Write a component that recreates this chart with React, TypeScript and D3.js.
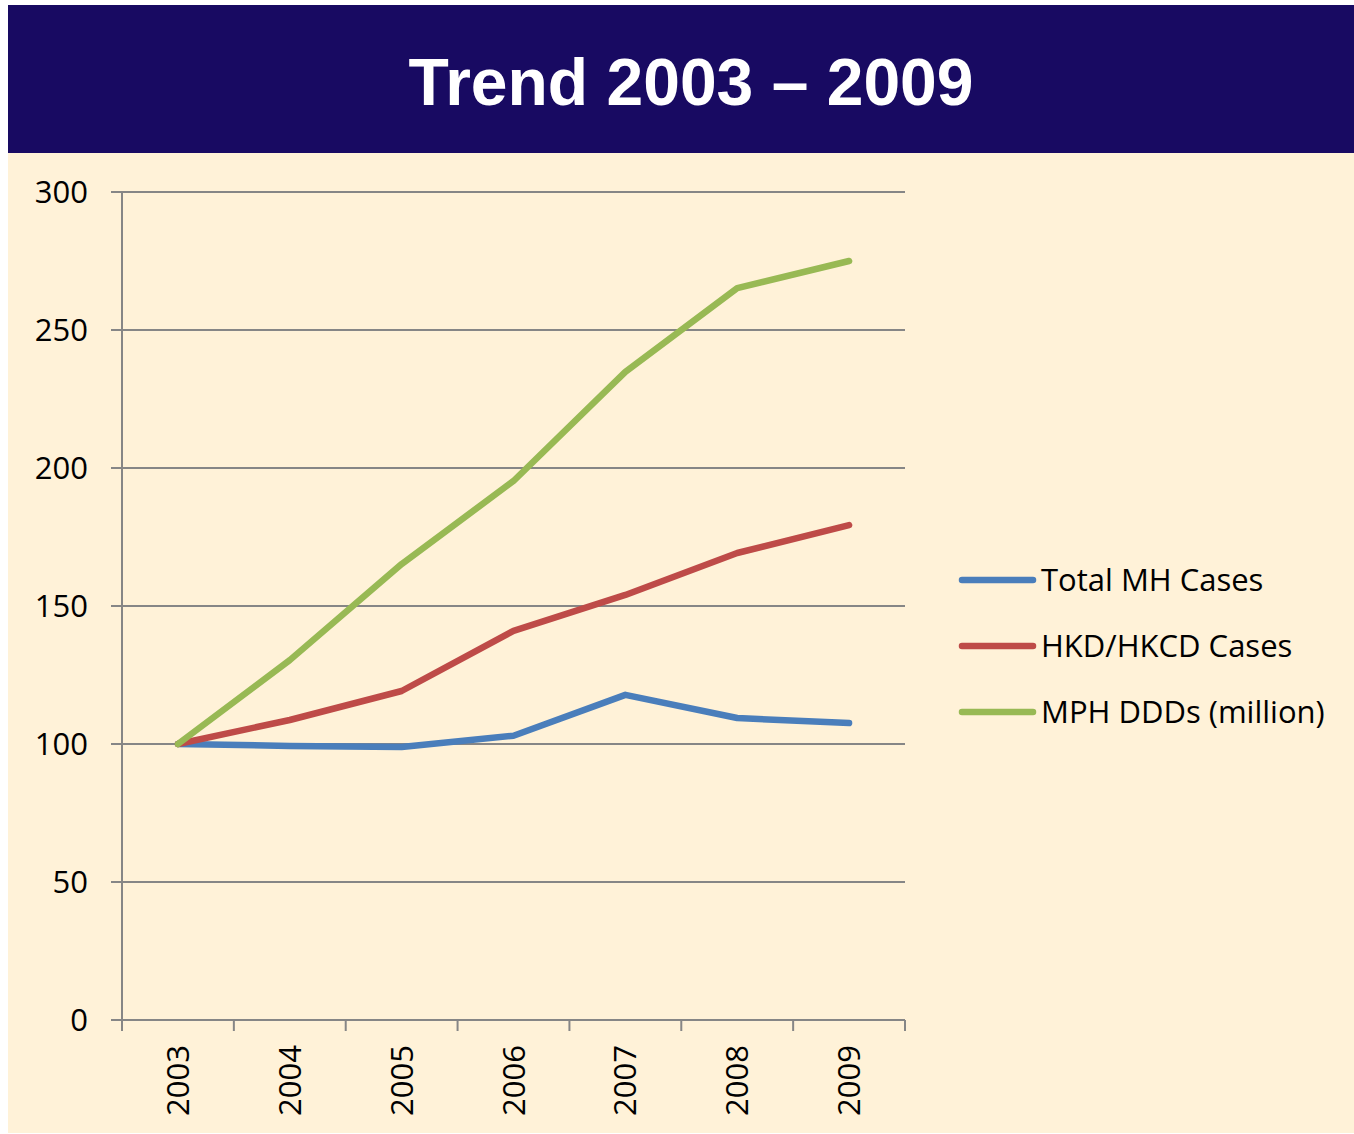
import React from "react";
import { scaleBand, scaleLinear, line } from "d3";

const width = 1354;
const height = 1134;
const margin = { top: 192, left: 122, plotRight: 905, bottom: 1020 };

const years = ["2003", "2004", "2005", "2006", "2007", "2008", "2009"];
const yTicks = [0, 50, 100, 150, 200, 250, 300];

const totalMH = [100, 99.3, 98.9, 103, 117.8, 109.4, 107.6];
const hkdCases = [100, 108.7, 119.2, 141, 154, 169.2, 179.3];
const mphDDDs = [100, 130.4, 165.2, 195.3, 234.8, 265.2, 275];

const seriesNames = ["Total MH Cases", "HKD/HKCD Cases", "MPH DDDs (million)"];
const seriesColors = ["#4A7EBB", "#BE4B48", "#98B954"];

const font = "'Open Sans', 'Noto Sans', sans-serif";

export default function App() {
  const series = [totalMH, hkdCases, mphDDDs];

  const xScale = scaleBand<string>()
    .domain(years)
    .range([margin.left, margin.plotRight]);

  const yScale = scaleLinear().domain([0, 300]).range([margin.bottom, margin.top]);

  const lineGen = line<number>()
    .x((_, i) => xScale(years[i])! + xScale.bandwidth() / 2)
    .y((d) => yScale(d));

  const tickEdges = years.map((y) => xScale(y)!).concat([margin.plotRight]);

  return (
    <svg
      width={width}
      height={height}
      style={{ position: "absolute", left: 0, top: 0, background: "#fff" }}
    >
      <rect x={8} y={5} width={width - 8} height={148} fill="#180A62" />
      <rect x={8} y={153} width={width - 8} height={980} fill="#FFF2D8" />
      <text
        x={691}
        y={105}
        textAnchor="middle"
        fill="#fff"
        fontFamily="'Liberation Sans', Arial, sans-serif"
        fontWeight="bold"
        fontSize={66}
      >
        Trend 2003 – 2009
      </text>

      {/* gridlines + y labels */}
      {yTicks.map((t) => (
        <g key={t}>
          <line
            x1={margin.left - 11}
            x2={margin.plotRight}
            y1={yScale(t)}
            y2={yScale(t)}
            stroke="#868686"
            strokeWidth={2}
          />
          <text
            x={88}
            y={yScale(t)}
            dy=".35em"
            textAnchor="end"
            fontFamily={font}
            fontSize={31}
            fill="#000"
          >
            {t}
          </text>
        </g>
      ))}

      {/* y axis */}
      <line
        x1={margin.left}
        x2={margin.left}
        y1={margin.top}
        y2={margin.bottom + 11}
        stroke="#868686"
        strokeWidth={2}
      />

      {/* x ticks */}
      {tickEdges.map((x, i) => (
        <line
          key={i}
          x1={x}
          x2={x}
          y1={margin.bottom}
          y2={margin.bottom + 11}
          stroke="#868686"
          strokeWidth={2}
        />
      ))}

      {years.map((y) => {
        const cx = xScale(y)! + xScale.bandwidth() / 2;
        return (
          <text
            key={y}
            transform={`translate(${cx + 11}, ${margin.bottom + 25}) rotate(-90)`}
            textAnchor="end"
            fontFamily={font}
            fontSize={31}
            fill="#000"
          >
            {y}
          </text>
        );
      })}

      {/* lines */}
      {series.map((s, i) => (
        <path
          key={i}
          d={lineGen(s) || ""}
          fill="none"
          stroke={seriesColors[i]}
          strokeWidth={6.5}
          strokeLinecap="round"
          strokeLinejoin="round"
        />
      ))}

      {/* legend */}
      {seriesNames.map((name, i) => {
        const ly = 580 + i * 66;
        return (
          <g key={name}>
            <line
              x1={962}
              x2={1033}
              y1={ly}
              y2={ly}
              stroke={seriesColors[i]}
              strokeWidth={6.5}
              strokeLinecap="round"
            />
            <text
              x={1041}
              y={ly}
              dy=".36em"
              fontFamily={font}
              fontSize={31}
              fill="#000"
            >
              {name}
            </text>
          </g>
        );
      })}
    </svg>
  );
}
